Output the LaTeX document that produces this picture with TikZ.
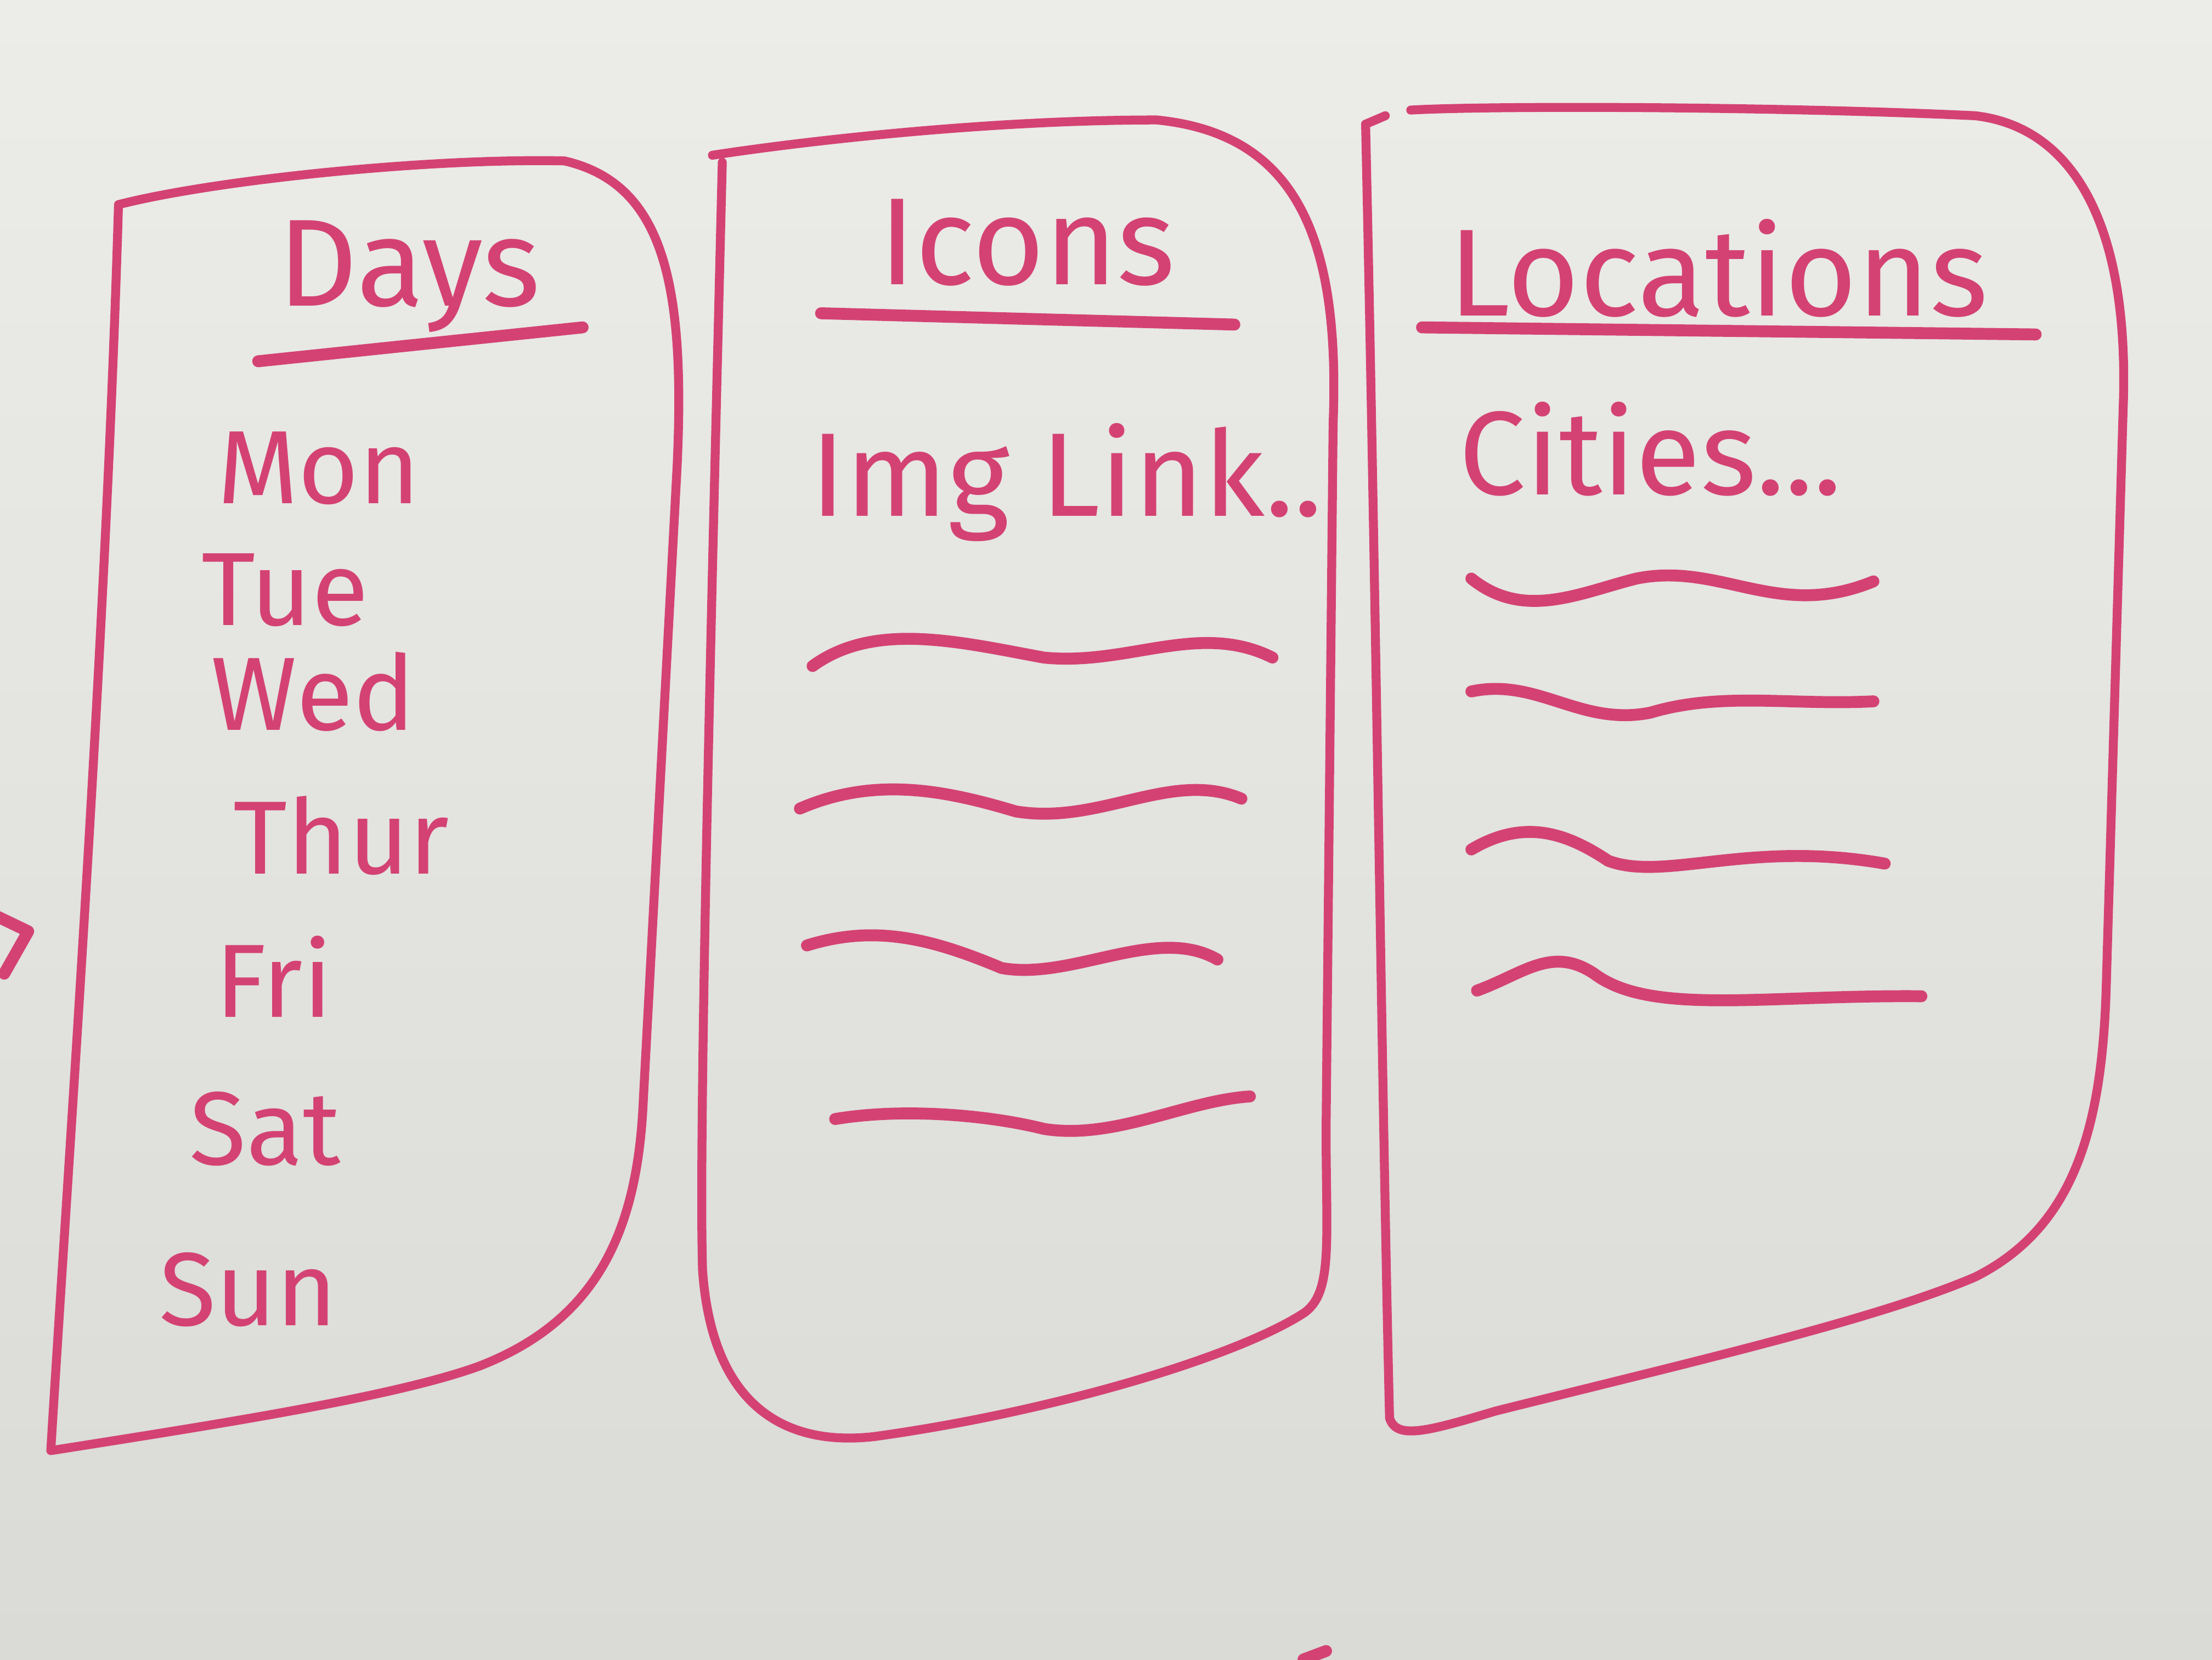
\documentclass[tikz,border=0pt]{standalone}
\usepackage{fontspec}
\setsansfont{Fira Sans}
\usetikzlibrary{positioning}
\definecolor{marker}{RGB}{212,66,116}
\definecolor{boardtop}{RGB}{236,236,232}
\definecolor{boardlow}{RGB}{218,218,214}

\begin{document}
\begin{tikzpicture}[x=0.1mm, y=-0.1mm,
    marker/.style={draw=marker, line width=2.4pt, line cap=round, line join=round},
    thin marker/.style={marker, line width=1.8pt},
    word/.style={text=marker, inner sep=0pt, font=\sffamily\fontsize{21}{24}\selectfont},
    wide word/.style={word, font=\sffamily\fontsize{24}{27}\selectfont},
    head/.style={word, font=\sffamily\fontsize{25}{28}\selectfont}]
    % board
    \shade[top color=boardtop, bottom color=boardlow] (0,0) rectangle (1568,1176);
    \useasboundingbox (0,0) rectangle (1568,1176);

    % days panel
    \draw[thin marker] (84,145) .. controls (75,450) and (50,800) .. (36,1028)
        .. controls (150,1010) and (280,990) .. (340,968)
        .. controls (425,935) and (452,870) .. (456,780)
        -- (480,330) .. controls (486,200) and (470,130) .. (400,114)
        .. controls (300,112) and (150,128) .. (84,145);
    \node[head] (days) at (290,196) {Days};
    \draw[marker] (183,256) -- (413,232);
    \node[word] (mon)  at (226,332) {Mon};
    \node[word] (tue)  at (202,418) {Tue};
    \node[word] (wed)  at (222,490) {Wed};
    \node[word] (thur) at (242,592) {Thur};
    \node[word] (fri)  at (194,692) {Fri};
    \node[word] (sat)  at (188,800) {Sat};
    \node[word] (sun)  at (176,914) {Sun};

    % icons panel
    \draw[thin marker] (512,115) .. controls (505,400) and (495,800) .. (498,900)
        .. controls (505,1000) and (560,1025) .. (620,1018)
        .. controls (750,1000) and (880,960) .. (925,930)
        .. controls (945,915) and (940,880) .. (940,800)
        -- (945,300) .. controls (950,170) and (920,95) .. (820,85)
        .. controls (700,85) and (570,100) .. (505,110);
    \node[head] (icons) at (728,172) {Icons};
    \draw[marker] (582,222) -- (875,230);
    \node[wide word] (img) at (756,342) {Img Link..};
    \draw[marker] (576,472) .. controls (620,440) and (680,455) .. (740,466)
        .. controls (800,472) and (850,440) .. (902,466);
    \draw[marker] (567,573) .. controls (620,550) and (670,560) .. (720,575)
        .. controls (780,585) and (830,545) .. (880,566);
    \draw[marker] (572,670) .. controls (620,655) and (660,665) .. (710,686)
        .. controls (760,695) and (820,655) .. (863,680);
    \draw[marker] (592,793) .. controls (640,785) and (700,790) .. (740,800)
        .. controls (790,808) and (840,780) .. (886,777);

    % locations panel
    \draw[thin marker] (968,88) .. controls (975,400) and (980,800) .. (985,1005)
        .. controls (990,1020) and (1010,1015) .. (1060,1000)
        .. controls (1200,965) and (1330,935) .. (1400,905)
        .. controls (1470,870) and (1490,800) .. (1493,700)
        -- (1505,290) .. controls (1510,160) and (1470,90) .. (1400,82)
        .. controls (1250,75) and (1050,75) .. (1000,78);
    \draw[thin marker] (968,88) -- (982,82);
    \node[head] (locations) at (1218,190) {Locations};
    \draw[marker] (1008,232) -- (1443,237);
    \node[wide word] (cities) at (1170,318) {Cities...};
    \draw[marker] (1043,410) .. controls (1080,440) and (1120,420) .. (1160,410)
        .. controls (1220,398) and (1260,440) .. (1328,412);
    \draw[marker] (1043,490) .. controls (1090,480) and (1120,515) .. (1170,505)
        .. controls (1220,490) and (1270,500) .. (1328,497);
    \draw[marker] (1043,602) .. controls (1080,580) and (1110,590) .. (1140,610)
        .. controls (1180,625) and (1240,595) .. (1336,612);
    \draw[marker] (1047,702) .. controls (1080,690) and (1100,670) .. (1130,690)
        .. controls (1170,720) and (1250,705) .. (1362,706);

    % stray marks
    \draw[marker] (-5,648) -- (20,660) -- (3,690);
    \draw[marker] (924,1176) -- (940,1170);
\end{tikzpicture}
\end{document}
